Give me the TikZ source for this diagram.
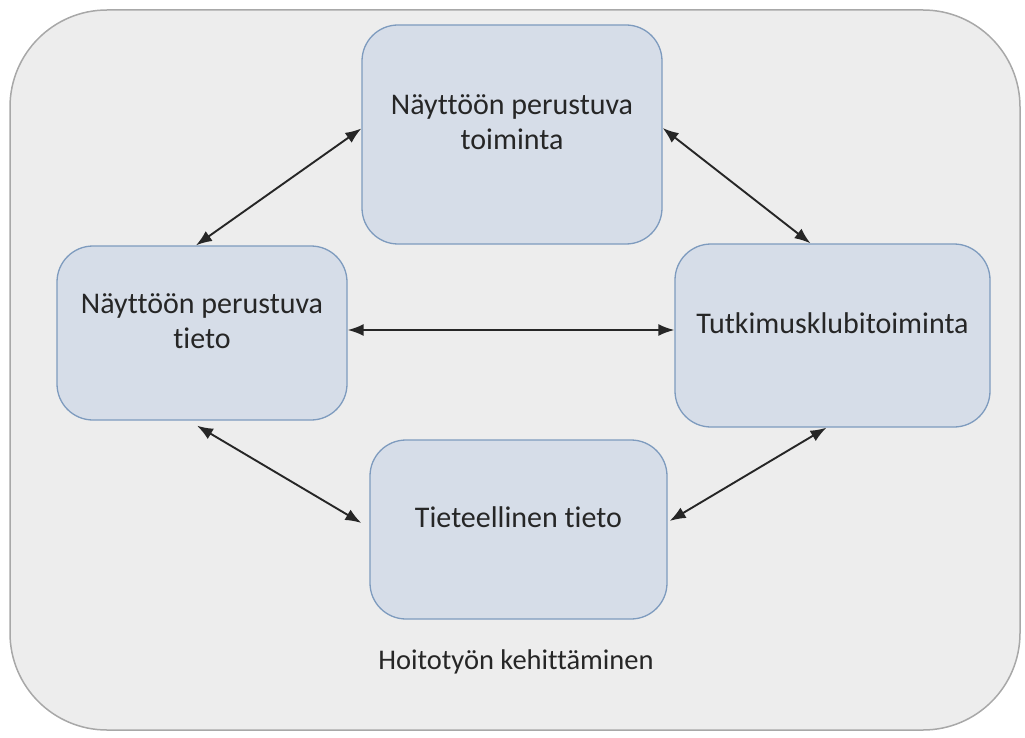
\documentclass[tikz,border=0pt]{standalone}
\usepackage{fontspec}
\setmainfont{Carlito}[Ligatures=NoCommon]
\usetikzlibrary{arrows.meta, positioning}

\definecolor{boxfill}{HTML}{D6DDE8}
\definecolor{boxline}{HTML}{7E9BBE}
\definecolor{backfill}{HTML}{EDEDED}
\definecolor{backline}{HTML}{A8A8A8}

\tikzset{
    topic/.style = {draw = boxline, fill = boxfill, line width = 1.3pt, rounded corners = 36pt,
        align = center, font = \fontsize{30}{35}\selectfont, text = black!85, text depth = 24pt},
    link/.style = {{Latex[length=16pt,width=12pt]}-{Latex[length=16pt,width=12pt]}, line width = 1.9pt, black!85}
}

\begin{document}
\begin{tikzpicture}[x = 1pt, y = -1pt]
    \useasboundingbox (0,0) rectangle (1025,738);
    \draw[fill = backfill, draw = backline, line width = 1.5pt, rounded corners = 97pt] (10,10) rectangle (1020,730);

    \node[topic, minimum width = 300pt, minimum height = 219pt] (toiminta) at (512,134.5) {Näyttöön perustuva\\toiminta};
    \node[topic, minimum width = 290pt, minimum height = 174pt] (tieto) at (202,333) {Näyttöön perustuva\\tieto};
    \node[topic, minimum width = 315pt, minimum height = 183pt] (klubi) at (832.5,335.5) {Tutkimusklubitoiminta};
    \node[topic, minimum width = 297pt, minimum height = 179pt] (tiede) at (518.5,529.5) {Tieteellinen tieto};
    \node[font = \fontsize{28.5}{34}\selectfont, text = black!85] (kehitys) at (516,662) {Hoitotyön kehittäminen};

    \draw[link] ([xshift=-6pt]tieto.north) -- ([yshift=6pt]toiminta.west);
    \draw[link] ([yshift=6.5pt]toiminta.east) -- ([xshift=-22pt]klubi.north);
    \draw[link] ([yshift=3pt]tieto.east) -- ([yshift=5.5pt]klubi.west);
    \draw[link] ([xshift=-5pt, yshift=-5pt]tieto.south) -- ([xshift=-8pt, yshift=6.5pt]tiede.west);
    \draw[link] ([xshift=-6pt]klubi.south) -- ([xshift=2pt, yshift=8.5pt]tiede.east);
\end{tikzpicture}
\end{document}
